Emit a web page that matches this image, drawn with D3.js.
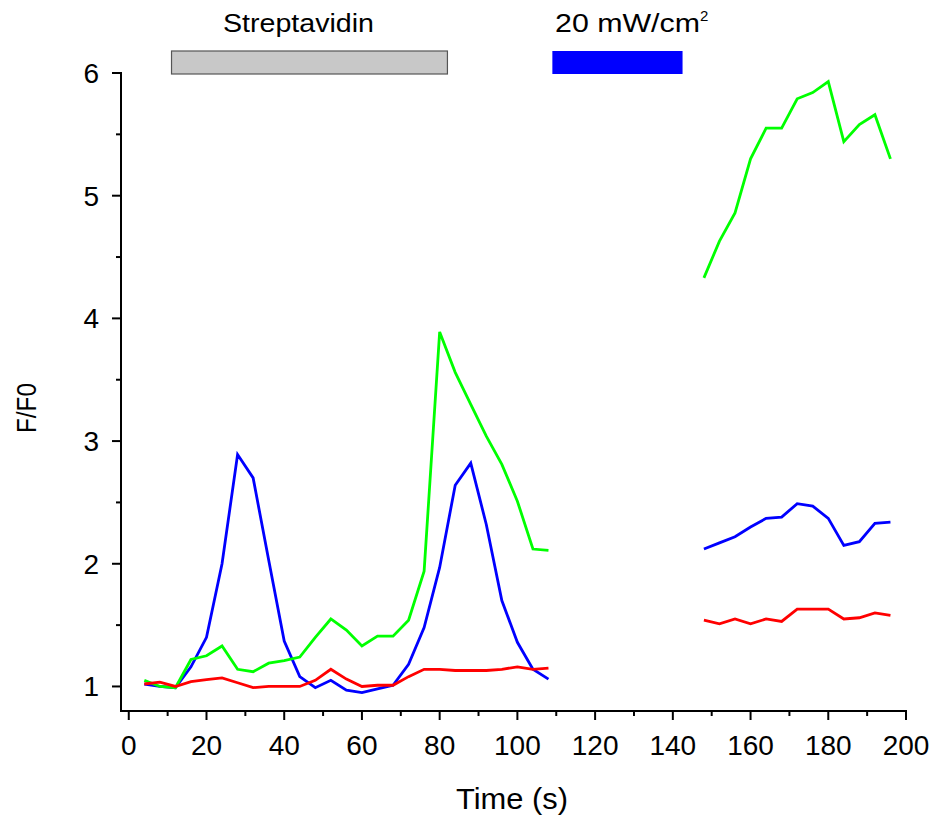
<!DOCTYPE html>
<html><head><meta charset="utf-8">
<script src="https://cdn.jsdelivr.net/npm/d3@7"></script>
<style>body{margin:0;background:#fff}svg{display:block}text{font-family:"Liberation Sans",Arial,sans-serif}</style>
</head><body>
<svg id="c" width="935" height="817"></svg>
<script>
const time = [4,8,12,16,20,24,28,32,36,40,44,48,52,56,60,64,68,72,76,80,84,88,92,96,100,104,108,
              null,148,152,156,160,164,168,172,176,180,184,188,192,196];
const blue  = [1.02,1.00,0.99,1.16,1.40,2.00,2.89,2.70,2.03,1.37,1.08,0.99,1.05,0.97,0.95,0.98,1.01,1.18,1.48,1.97,2.64,2.82,2.32,1.70,1.36,1.14,1.06,
               null,2.12,2.17,2.22,2.30,2.37,2.38,2.49,2.47,2.37,2.15,2.18,2.33,2.34];
const green = [1.05,1.00,0.99,1.22,1.25,1.33,1.14,1.12,1.19,1.21,1.24,1.40,1.55,1.46,1.33,1.41,1.41,1.54,1.94,3.89,3.56,3.30,3.04,2.81,2.51,2.12,2.11,
               null,4.33,4.63,4.86,5.30,5.55,5.55,5.79,5.84,5.93,5.44,5.58,5.66,5.30];
const red   = [1.02,1.035,1.00,1.04,1.055,1.07,1.03,0.99,1.00,1.00,1.00,1.05,1.14,1.06,1.00,1.01,1.01,1.08,1.14,1.14,1.13,1.13,1.13,1.14,1.16,1.14,1.15,
               null,1.54,1.51,1.55,1.51,1.55,1.53,1.63,1.63,1.63,1.55,1.56,1.60,1.58];
const seriesNames = ["blue","green","red"];
const seriesColors = ["#0000ff","#00ff00","#ff0000"];
const stimLabels = ["Streptavidin","20 mW/cm"];
const stimStart = [11,109];
const stimEnd = [82,142.5];
const xTicks = [0,20,40,60,80,100,120,140,160,180,200];
const yTicks = [1,2,3,4,5,6];

const svg = d3.select("#c");
const x = d3.scaleLinear().domain([-2,200]).range([121,906]);
const y = d3.scaleLinear().domain([0.8,6]).range([711,73]);

// axes
const xMinor = d3.range(10,200,20);
const yMinor = d3.range(1.5,6,1);
const gx = svg.append("g").attr("transform","translate(0,711)");
gx.append("line").attr("x1",120).attr("x2",907).attr("stroke","#000").attr("stroke-width",2);
gx.selectAll(".maj").data(xTicks).join("line").attr("x1",d=>x(d)).attr("x2",d=>x(d)).attr("y1",0).attr("y2",9).attr("stroke","#000").attr("stroke-width",2);
gx.selectAll(".min").data(xMinor).join("line").attr("x1",d=>x(d)).attr("x2",d=>x(d)).attr("y1",0).attr("y2",5).attr("stroke","#000").attr("stroke-width",2);
gx.selectAll("text").data(xTicks).join("text").attr("x",d=>x(d)).attr("y",44).attr("text-anchor","middle").attr("font-size",28).text(d=>d);

const gy = svg.append("g").attr("transform","translate(121,0)");
gy.append("line").attr("y1",72).attr("y2",712).attr("stroke","#000").attr("stroke-width",2);
gy.selectAll(".maj").data(yTicks).join("line").attr("y1",d=>y(d)).attr("y2",d=>y(d)).attr("x1",0).attr("x2",-9).attr("stroke","#000").attr("stroke-width",2);
gy.selectAll(".min").data(yMinor).join("line").attr("y1",d=>y(d)).attr("y2",d=>y(d)).attr("x1",0).attr("x2",-5).attr("stroke","#000").attr("stroke-width",2);
gy.selectAll("text").data(yTicks).join("text").attr("x",-22).attr("y",d=>y(d)+10).attr("text-anchor","end").attr("font-size",28).text(d=>d);

svg.append("text").attr("x",456).attr("y",809).attr("font-size",29)
  .attr("textLength",112).attr("lengthAdjust","spacingAndGlyphs").text("Time (s)");
svg.append("text").attr("transform","translate(36,433) rotate(-90)").attr("font-size",27)
  .attr("textLength",50).attr("lengthAdjust","spacingAndGlyphs").text("F/F0");

// lines
const allSeries = [blue,green,red];
const line = d3.line().defined((d,i)=>d!=null && time[i]!=null).x((d,i)=>x(time[i])).y(d=>y(d));
allSeries.forEach((s,k)=>{
  svg.append("path").datum(s).attr("d",line).attr("fill","none").attr("stroke",seriesColors[k]).attr("stroke-width",2.8).attr("stroke-linejoin","miter");
});

// stimulus bars
svg.append("rect").attr("x",x(stimStart[0])).attr("width",x(stimEnd[0])-x(stimStart[0])).attr("y",51).attr("height",23).attr("fill","#c8c8c8").attr("stroke","#555").attr("stroke-width",1.2);
svg.append("rect").attr("x",x(stimStart[1])).attr("width",x(stimEnd[1])-x(stimStart[1])).attr("y",51).attr("height",23).attr("fill","#0000ff");
svg.append("text").attr("x",223).attr("y",32).attr("font-size",25)
  .attr("textLength",151).attr("lengthAdjust","spacingAndGlyphs").text(stimLabels[0]);
const t2 = svg.append("text").attr("x",555).attr("y",32).attr("font-size",25);
t2.append("tspan").attr("textLength",145).attr("lengthAdjust","spacingAndGlyphs").text(stimLabels[1]);
t2.append("tspan").attr("font-size",15).attr("dy",-11).text("2");
</script>
</body></html>
